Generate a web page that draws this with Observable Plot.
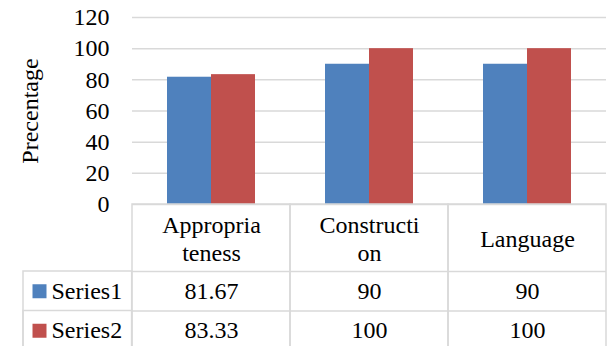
<!DOCTYPE html>
<html>
<head>
<meta charset="utf-8">
<script src="https://cdn.jsdelivr.net/npm/d3@7"></script>
<script src="https://cdn.jsdelivr.net/npm/@observablehq/plot@0.6"></script>
<style>
  html, body { margin: 0; padding: 0; background: #fff; }
  #chart svg { display: block; }
  #chart svg, #chart svg text { font-family: 'Liberation Serif', 'Times New Roman', serif !important; }
</style>
</head>
<body>
<div id="chart"></div>
<script>
// ---- data ----
const categories = ["Appropriateness", "Construction", "Language"];
const categoryLabels = ["Appropria\nteness", "Constructi\non", "Language"];
const seriesNames = ["Series1", "Series2"];
const series1 = [81.67, 90, 90];
const series2 = [83.33, 100, 100];
const yTicks = [0, 20, 40, 60, 80, 100, 120];
const yLabel = "Precentage";

// ---- layout / style ----
const W = 607, H = 346;
const mL = 131, mR = 1, mT = 17, mB = 142;
const frameH = H - mT - mB;            // plot frame height
const fw = (W - mL - mR) / categories.length; // facet (column) width
const labelColW = 109;                  // table row-label column width
const headerH = 67, rowH = 39.5;
const gridColor = "#d9d9d9";
const colors = ["#4f81bd", "#c0504d"];
const fontFamily = "'Liberation Serif', 'Times New Roman', serif";
const fs = 24;

const valuesBySeries = [series1, series2];
const rows = categories.flatMap((c, i) =>
  seriesNames.map((s, j) => ({category: c, series: s, value: valuesBySeries[j][i]}))
);
const header = categories.map((c, i) => ({category: c, label: categoryLabels[i]}));

const marks = [
  // horizontal gridlines
  Plot.ruleY(yTicks, {stroke: gridColor, strokeWidth: 1.5}),
  // bars
  Plot.barY(rows, {fx: "category", x: "series", y: "value", fill: "series"}),
  // y-axis title
  Plot.text([yLabel], {
    fx: () => categories[0], text: d => d, frameAnchor: "left", rotate: -90,
    textAnchor: "middle", lineAnchor: "middle", dx: -102, fontSize: fs, fontFamily
  }),
  // data table: column cells
  Plot.rect(categories, {
    fx: d => d, insetTop: frameH, insetBottom: -170,
    fill: "none", stroke: gridColor, strokeWidth: 1.5
  }),
  // row separator lines across columns
  Plot.ruleY(categories, {fx: d => d, y: () => 0, dy: headerH, stroke: gridColor, strokeWidth: 1.5}),
  Plot.ruleY(categories, {fx: d => d, y: () => 0, dy: headerH + rowH, stroke: gridColor, strokeWidth: 1.5}),
  // label column cells
  Plot.rect([categories[0]], {
    fx: d => d, insetTop: frameH + headerH, insetBottom: -170,
    insetLeft: -labelColW, insetRight: fw,
    fill: "none", stroke: gridColor, strokeWidth: 1.5
  }),
  Plot.rect([categories[0]], {
    fx: d => d, insetTop: frameH + headerH + rowH, insetBottom: -170,
    insetLeft: -labelColW, insetRight: fw,
    fill: "none", stroke: gridColor, strokeWidth: 1.5
  }),
  // header labels
  Plot.text(header, {
    fx: "category", text: "label", frameAnchor: "bottom",
    dy: headerH / 2, lineAnchor: "middle", lineHeight: 1.19, fontSize: fs, fontFamily
  })
];

seriesNames.forEach((s, j) => {
  const rowDy = headerH + rowH * j + rowH / 2;
  marks.push(
    Plot.text(rows.filter(r => r.series === s), {
      fx: "category", text: r => String(r.value), frameAnchor: "bottom",
      dy: rowDy, lineAnchor: "middle", fontSize: fs, fontFamily
    }),
    Plot.text([s], {
      fx: () => categories[0], text: d => d, frameAnchor: "bottom-left",
      textAnchor: "start", lineAnchor: "middle", dx: -81, dy: rowDy, fontSize: fs, fontFamily
    }),
    Plot.dot([s], {
      fx: () => categories[0], fill: d => d, symbol: "square", r: 7.9,
      frameAnchor: "bottom-left", dx: -93, dy: rowDy
    })
  );
});

const chart = Plot.plot({
  width: W, height: H,
  marginLeft: mL, marginRight: mR, marginTop: mT, marginBottom: mB,
  style: {fontFamily, fontSize: fs + "px", color: "#000", background: "#fff", overflow: "visible"},
  fx: {domain: categories, padding: 0, axis: null},
  x: {domain: seriesNames, paddingInner: 0, paddingOuter: 0.759, axis: null},
  y: {domain: [0, 120], ticks: yTicks, tickSize: 0, tickPadding: 23, label: null, tickFormat: d => String(d)},
  color: {domain: seriesNames, range: colors},
  marks
});
document.getElementById("chart").appendChild(chart);
</script>
</body>
</html>
